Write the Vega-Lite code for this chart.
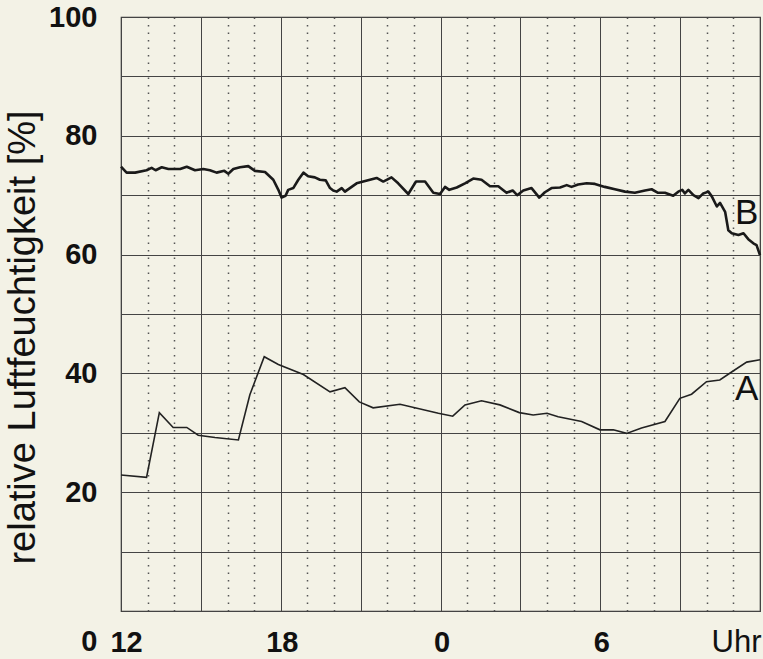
{
  "$schema": "https://vega.github.io/schema/vega-lite/v6.json",
  "autosize": "none",
  "width": 639,
  "height": 594,
  "padding": {"left": 121, "top": 17, "right": 3, "bottom": 48},
  "background": "#f3f2e6",
  "config": {"view": {"stroke": "#333", "strokeWidth": 1.2}, "font": "Liberation Sans"},
  "resolve": {"axis": {"x": "independent"}},
  "datasets": {
    "curves": [
      {"series": "A", "hour": 0, "value": 22.9},
      {"series": "A", "hour": 0.96, "value": 22.5},
      {"series": "A", "hour": 1.44, "value": 33.4},
      {"series": "A", "hour": 1.96, "value": 30.9},
      {"series": "A", "hour": 2.47, "value": 30.9},
      {"series": "A", "hour": 2.9, "value": 29.6},
      {"series": "A", "hour": 3.53, "value": 29.2},
      {"series": "A", "hour": 4.41, "value": 28.8},
      {"series": "A", "hour": 4.84, "value": 36.4},
      {"series": "A", "hour": 5.38, "value": 42.8},
      {"series": "A", "hour": 5.91, "value": 41.5},
      {"series": "A", "hour": 6.85, "value": 39.8},
      {"series": "A", "hour": 7.85, "value": 36.9},
      {"series": "A", "hour": 8.41, "value": 37.6},
      {"series": "A", "hour": 8.95, "value": 35.2},
      {"series": "A", "hour": 9.47, "value": 34.2},
      {"series": "A", "hour": 10.48, "value": 34.8},
      {"series": "A", "hour": 11.92, "value": 33.3},
      {"series": "A", "hour": 12.46, "value": 32.8},
      {"series": "A", "hour": 12.92, "value": 34.7},
      {"series": "A", "hour": 13.54, "value": 35.4},
      {"series": "A", "hour": 14.23, "value": 34.7},
      {"series": "A", "hour": 14.96, "value": 33.4},
      {"series": "A", "hour": 15.48, "value": 33.0},
      {"series": "A", "hour": 16.0, "value": 33.3},
      {"series": "A", "hour": 16.42, "value": 32.7},
      {"series": "A", "hour": 17.3, "value": 31.9},
      {"series": "A", "hour": 17.99, "value": 30.5},
      {"series": "A", "hour": 18.49, "value": 30.5},
      {"series": "A", "hour": 18.99, "value": 29.9},
      {"series": "A", "hour": 19.55, "value": 30.8},
      {"series": "A", "hour": 20.43, "value": 31.9},
      {"series": "A", "hour": 20.99, "value": 35.8},
      {"series": "A", "hour": 21.43, "value": 36.5},
      {"series": "A", "hour": 21.99, "value": 38.6},
      {"series": "A", "hour": 22.49, "value": 38.9},
      {"series": "A", "hour": 22.99, "value": 40.4},
      {"series": "A", "hour": 23.5, "value": 41.9},
      {"series": "A", "hour": 24, "value": 42.3},
      {"series": "B", "hour": 0, "value": 74.8},
      {"series": "B", "hour": 0.21, "value": 73.8},
      {"series": "B", "hour": 0.53, "value": 73.8},
      {"series": "B", "hour": 0.96, "value": 74.2},
      {"series": "B", "hour": 1.15, "value": 74.6},
      {"series": "B", "hour": 1.3, "value": 74.2},
      {"series": "B", "hour": 1.53, "value": 74.7},
      {"series": "B", "hour": 1.78, "value": 74.4},
      {"series": "B", "hour": 2.22, "value": 74.4},
      {"series": "B", "hour": 2.47, "value": 74.8},
      {"series": "B", "hour": 2.78, "value": 74.2},
      {"series": "B", "hour": 3.09, "value": 74.4},
      {"series": "B", "hour": 3.34, "value": 74.2},
      {"series": "B", "hour": 3.59, "value": 73.8},
      {"series": "B", "hour": 3.88, "value": 74.1},
      {"series": "B", "hour": 4.03, "value": 73.6},
      {"series": "B", "hour": 4.22, "value": 74.4},
      {"series": "B", "hour": 4.47, "value": 74.7},
      {"series": "B", "hour": 4.78, "value": 74.9},
      {"series": "B", "hour": 5.03, "value": 74.1},
      {"series": "B", "hour": 5.41, "value": 73.9},
      {"series": "B", "hour": 5.72, "value": 72.6},
      {"series": "B", "hour": 5.91, "value": 70.9},
      {"series": "B", "hour": 6.03, "value": 69.6},
      {"series": "B", "hour": 6.18, "value": 69.9},
      {"series": "B", "hour": 6.28, "value": 70.9},
      {"series": "B", "hour": 6.47, "value": 71.2},
      {"series": "B", "hour": 6.66, "value": 72.6},
      {"series": "B", "hour": 6.85, "value": 73.8},
      {"series": "B", "hour": 7.03, "value": 73.2},
      {"series": "B", "hour": 7.28, "value": 73.0},
      {"series": "B", "hour": 7.47, "value": 72.6},
      {"series": "B", "hour": 7.69, "value": 72.5},
      {"series": "B", "hour": 7.85, "value": 71.2},
      {"series": "B", "hour": 7.97, "value": 70.8},
      {"series": "B", "hour": 8.1, "value": 70.6},
      {"series": "B", "hour": 8.29, "value": 71.2},
      {"series": "B", "hour": 8.41, "value": 70.6},
      {"series": "B", "hour": 8.85, "value": 72.0},
      {"series": "B", "hour": 9.1, "value": 72.3},
      {"series": "B", "hour": 9.35, "value": 72.6},
      {"series": "B", "hour": 9.6, "value": 72.9},
      {"series": "B", "hour": 9.85, "value": 72.3},
      {"series": "B", "hour": 10.16, "value": 73.0},
      {"series": "B", "hour": 10.41, "value": 72.0},
      {"series": "B", "hour": 10.79, "value": 70.2},
      {"series": "B", "hour": 11.08, "value": 72.3},
      {"series": "B", "hour": 11.42, "value": 72.3},
      {"series": "B", "hour": 11.73, "value": 70.4},
      {"series": "B", "hour": 11.98, "value": 70.2},
      {"series": "B", "hour": 12.17, "value": 71.4},
      {"series": "B", "hour": 12.33, "value": 70.9},
      {"series": "B", "hour": 12.61, "value": 71.3},
      {"series": "B", "hour": 12.92, "value": 72.0},
      {"series": "B", "hour": 13.23, "value": 72.8},
      {"series": "B", "hour": 13.54, "value": 72.6},
      {"series": "B", "hour": 13.86, "value": 71.5},
      {"series": "B", "hour": 14.17, "value": 71.5},
      {"series": "B", "hour": 14.48, "value": 70.4},
      {"series": "B", "hour": 14.71, "value": 70.8},
      {"series": "B", "hour": 14.88, "value": 70.0},
      {"series": "B", "hour": 15.11, "value": 70.8},
      {"series": "B", "hour": 15.42, "value": 71.2},
      {"series": "B", "hour": 15.71, "value": 69.6},
      {"series": "B", "hour": 15.92, "value": 70.5},
      {"series": "B", "hour": 16.17, "value": 71.2},
      {"series": "B", "hour": 16.49, "value": 71.3},
      {"series": "B", "hour": 16.74, "value": 71.7},
      {"series": "B", "hour": 16.92, "value": 71.4},
      {"series": "B", "hour": 17.17, "value": 71.8},
      {"series": "B", "hour": 17.49, "value": 72.0},
      {"series": "B", "hour": 17.8, "value": 71.9},
      {"series": "B", "hour": 18.17, "value": 71.4},
      {"series": "B", "hour": 18.55, "value": 71.0},
      {"series": "B", "hour": 18.93, "value": 70.6},
      {"series": "B", "hour": 19.3, "value": 70.4},
      {"series": "B", "hour": 19.68, "value": 70.8},
      {"series": "B", "hour": 19.93, "value": 71.0},
      {"series": "B", "hour": 20.17, "value": 70.4},
      {"series": "B", "hour": 20.43, "value": 70.4},
      {"series": "B", "hour": 20.74, "value": 69.9},
      {"series": "B", "hour": 20.93, "value": 70.6},
      {"series": "B", "hour": 21.08, "value": 70.9},
      {"series": "B", "hour": 21.18, "value": 70.3},
      {"series": "B", "hour": 21.31, "value": 70.9},
      {"series": "B", "hour": 21.5, "value": 70.0},
      {"series": "B", "hour": 21.69, "value": 69.5},
      {"series": "B", "hour": 21.87, "value": 70.3},
      {"series": "B", "hour": 22.06, "value": 70.6},
      {"series": "B", "hour": 22.19, "value": 69.8},
      {"series": "B", "hour": 22.38, "value": 68.1},
      {"series": "B", "hour": 22.5, "value": 68.7},
      {"series": "B", "hour": 22.69, "value": 67.2},
      {"series": "B", "hour": 22.81, "value": 64.1},
      {"series": "B", "hour": 22.94, "value": 63.6},
      {"series": "B", "hour": 23.19, "value": 63.3},
      {"series": "B", "hour": 23.38, "value": 63.6},
      {"series": "B", "hour": 23.56, "value": 62.6},
      {"series": "B", "hour": 23.75, "value": 61.9},
      {"series": "B", "hour": 23.87, "value": 61.6},
      {"series": "B", "hour": 24, "value": 59.9}
    ],
    "labels": [
      {"hour": 23.5, "value": 37.3, "label": "A"},
      {"hour": 23.5, "value": 67.0, "label": "B"}
    ]
  },
  "layer": [
    {
      "data": {"name": "curves"},
      "transform": [{"filter": "datum.series == 'A'"}],
      "mark": {"type": "line", "color": "#222", "strokeWidth": 1.6},
      "encoding": {
        "x": {
          "field": "hour", "type": "quantitative", "title": null,
          "scale": {"domain": [0, 24], "nice": false, "zero": false},
          "axis": {
            "orient": "bottom",
            "values": [0,3,6,9,12,15,18,21,24],
            "ticks": false, "domain": false,
            "labelExpr": "datum.value == 0 ? '12' : datum.value == 6 ? '18' : datum.value == 12 ? '0' : datum.value == 18 ? '6' : datum.value == 24 ? 'Uhr' : ''",
            "labelFontSize": {"condition": {"test": "datum.value == 24", "value": 31}, "value": 29},
            "labelColor": "#111",
            "labelFontWeight": {"condition": {"test": "datum.value == 24", "value": "normal"}, "value": "bold"},
            "labelAlign": {"condition": {"test": "datum.value == 24", "value": "right"}, "value": "center"},
            "labelOffset": {"condition": {"test": "datum.value == 0", "value": 5}, "value": 1},
            "labelBaseline": "alphabetic",
            "labelPadding": 40,
            "labelFlush": false,
            "labelOverlap": false,
            "gridColor": "#444",
            "gridWidth": 1,
            "gridOpacity": 1
          }
        },
        "y": {
          "field": "value", "type": "quantitative",
          "scale": {"domain": [0, 100], "nice": false},
          "axis": {
            "values": [0,10,20,30,40,50,60,70,80,90,100],
            "ticks": false, "domain": false,
            "labelExpr": "datum.value % 20 == 0 ? datum.label : ''",
            "labelFontSize": 29,
            "labelFontWeight": "bold",
            "labelColor": "#111",
            "labelPadding": 24,
            "labelOffset": {"condition": {"test": "datum.value == 0", "value": 30}, "value": 0},
            "gridColor": "#444",
            "gridWidth": 1,
            "gridOpacity": 1,
            "title": "relative Luftfeuchtigkeit [%]",
            "titleFontSize": 38,
            "titleFontWeight": "normal",
            "titleColor": "#111",
            "titleAngle": -90,
            "titleAlign": "center",
            "titleBaseline": "middle",
            "titleX": -98,
            "titleY": 320
          }
        }
      }
    },
    {
      "data": {"name": "curves"},
      "transform": [{"filter": "datum.series == 'B'"}],
      "mark": {"type": "line", "color": "#1a1a1a", "strokeWidth": 2.6, "strokeJoin": "round"},
      "encoding": {
        "x": {
          "field": "hour", "type": "quantitative", "title": null,
          "axis": {
            "orient": "top",
            "values": [1,2,4,5,7,8,10,11,13,14,16,17,19,20,22,23],
            "labels": false, "ticks": false, "domain": false,
            "grid": true,
            "gridColor": "#555",
            "gridDash": [1.5, 6],
            "gridWidth": 1.5,
            "gridOpacity": 1
          }
        },
        "y": {"field": "value", "type": "quantitative"}
      }
    },
    {
      "data": {"name": "labels"},
      "mark": {"type": "text", "fontSize": 35, "color": "#111", "align": "center", "baseline": "middle", "font": "Liberation Sans"},
      "encoding": {
        "x": {"field": "hour", "type": "quantitative", "axis": null},
        "y": {"field": "value", "type": "quantitative"},
        "text": {"field": "label"}
      }
    }
  ]
}
